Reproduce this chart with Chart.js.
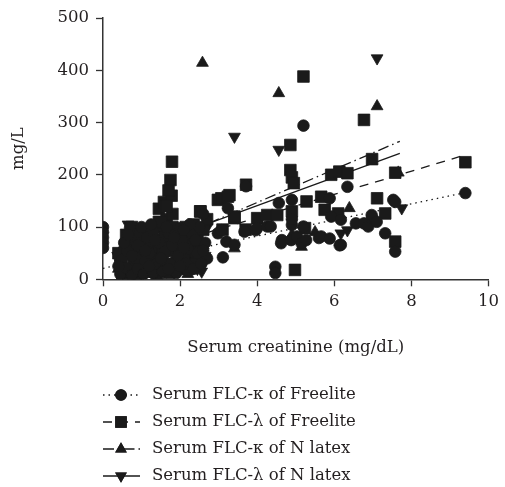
<!DOCTYPE html>
<html>
<head>
<meta charset="utf-8">
<script src="https://cdn.jsdelivr.net/npm/chart.js"></script>
<style>
  body { margin: 0; background: #fff; }
  #wrap { width: 505px; height: 487px; position: relative; }
</style>
</head>
<body>
<div id="wrap"><canvas id="myChart"></canvas></div>
<script>
// [serum creatinine mg/dL, mg/L]
const kappaFreelite = [
  [0,100],[0,90],[0,80],[0,70],[0,60],
  [0.45,10],[0.5,38],[0.6,22],[0.62,55],[0.7,98],[0.75,8],[0.8,75],[0.85,40],[0.9,20],[0.95,90],
  [1.0,60],[1.05,10],[1.1,35],[1.15,80],[1.2,50],[1.3,12],[1.3,92],[1.4,30],[1.45,70],[1.55,15],
  [1.6,52],[1.7,88],[1.75,30],[1.8,65],[1.9,12],[1.95,45],[2.0,98],[2.05,75],[2.15,30],[2.2,58],
  [2.3,88],[2.35,20],[2.45,50],[2.5,100],[2.6,125],[2.65,70],[2.7,40],
  [0.4,25],[0.55,70],[0.65,85],[0.75,45],[0.9,65],[1.0,100],[1.1,55],[1.2,25],[1.25,105],[1.35,75],
  [1.5,40],[1.65,100],[1.7,20],[1.85,80],[2.0,25],[2.1,60],[2.25,105],[2.4,75],[2.55,30],[2.6,55],
  [2.09,94],[2.98,88],[3.07,94],[3.11,42],[3.24,136],[3.2,72],[3.41,66],[3.67,91],[3.71,178],
  [3.96,94],[4.0,98],[4.26,101],[4.35,101],[4.47,24],[4.47,12],[4.56,146],[4.64,75],[4.62,69],
  [4.88,75],[4.9,152],[4.9,104],[4.9,115],[5.03,82],[5.15,69],[5.2,294],[5.2,101],[5.27,75],
  [5.6,79],[5.66,82],[5.88,78],[5.88,155],[5.92,120],[6.14,65],[6.17,114],[6.17,66],[6.34,177],
  [6.56,107],[6.77,107],[6.88,101],[6.98,117],[6.97,123],[7.1,110],[7.32,88],[7.53,152],[7.58,148],
  [7.58,53],[9.4,165]
];
const lambdaFreelite = [
  [0.45,30],[0.5,8],[0.55,50],[0.65,15],[0.7,68],[0.8,30],[0.85,85],[0.9,5],[0.95,52],[1.05,75],
  [1.1,20],[1.2,95],[1.25,40],[1.3,62],[1.4,8],[1.45,135],[1.5,100],[1.55,35],[1.58,148],[1.6,80],
  [1.65,115],[1.7,55],[1.75,190],[1.78,160],[1.79,225],[1.8,125],[1.85,20],[1.9,95],[2.0,60],[2.1,40],
  [2.15,100],[2.25,75],[2.4,30],[2.45,85],[2.53,130],
  [0.4,50],[0.6,85],[0.75,100],[0.85,10],[1.0,40],[1.15,62],[1.35,25],[1.45,110],[1.55,60],[1.65,140],
  [1.7,170],[1.8,100],[1.95,70],[2.05,85],[2.2,20],[2.35,105],[2.6,95],[2.7,115],
  [2.52,130],[2.98,152],[3.07,155],[3.24,158],[3.28,161],[3.1,95],[3.41,117],[3.41,120],[3.7,95],
  [3.71,181],[4.0,117],[4.26,123],[4.52,123],[4.86,257],[4.86,209],[4.9,195],[4.95,184],[4.9,130],
  [4.98,18],[5.2,388],[5.24,98],[5.28,149],[5.66,158],[5.75,133],[5.92,200],[6.13,206],[6.34,203],
  [6.1,126],[6.77,305],[6.98,230],[7.11,155],[7.32,126],[7.58,204],[7.58,72],[9.4,224]
];
const kappaNLatex = [
  [0.4,20],[0.55,45],[0.65,5],[0.75,55],[0.85,25],[0.95,70],[1.05,45],[1.15,10],[1.25,70],[1.35,45],
  [1.45,95],[1.5,25],[1.65,70],[1.7,8],[1.85,40],[1.95,80],[2.03,16],[2.1,55],[2.25,45],[2.4,70],
  [2.5,50],
  [0.5,60],[0.8,90],[1.0,30],[1.2,55],[1.4,15],[1.6,50],[1.8,20],[2.0,65],[2.2,10],[2.35,85],[2.6,65],
  [2.58,414],[3.41,59],[4.56,356],[4.9,85],[5.15,62],[5.5,90],[6.39,136],[7.11,331],[7.66,204]
];
const lambdaNLatex = [
  [0.38,45],[0.5,20],[0.6,65],[0.72,85],[0.8,12],[0.9,50],[1.0,95],[1.1,30],[1.2,60],[1.3,25],
  [1.4,80],[1.5,45],[1.6,25],[1.7,100],[1.8,60],[1.9,28],[2.0,80],[2.1,45],[2.3,95],[2.4,60],
  [2.5,40],[2.56,24],[2.56,15],[2.7,100],
  [0.45,30],[0.65,105],[0.85,70],[1.05,15],[1.25,85],[1.45,60],[1.65,15],[1.85,90],[2.05,35],[2.2,70],
  [2.45,20],[2.65,45],
  [3.41,273],[4.56,248],[6.17,88],[6.34,94],[7.11,423],[7.75,136]
];
// fitted lines, end points
const kappaFreeliteFit = [[0,21],[9.4,166]];
const lambdaFreeliteFit = [[0.3,36],[9.4,238]];
const kappaNLatexFit = [[0.3,30],[7.7,264]];
const lambdaNLatexFit = [[0.3,41],[7.7,241]];

const seriesNames = [
  'Serum FLC-\u03BA of Freelite',
  'Serum FLC-\u03BB of Freelite',
  'Serum FLC-\u03BA of N latex',
  'Serum FLC-\u03BB of N latex'
];

const ink = '#1a1a1a';
const textColor = '#231f20';
const fontFamily = "'DejaVu Serif', serif";
const fontSize = 16.5;

function pts(arr) { return arr.map(p => ({x: p[0], y: p[1]})); }

const markers = [
  {pointStyle: 'circle', radius: 5.8, rotation: 0},
  {pointStyle: 'rect', radius: 8.2, rotation: 0},
  {pointStyle: 'triangle', radius: 6.8, rotation: 0},
  {pointStyle: 'triangle', radius: 6.8, rotation: 180}
];
const dashes = [[1.5, 4], [9, 7], [11, 4, 1.5, 4], []];

function scatterSet(i, data) {
  return {
    label: seriesNames[i],
    data: pts(data),
    pointStyle: markers[i].pointStyle,
    pointRadius: markers[i].radius,
    pointRotation: markers[i].rotation,
    pointBackgroundColor: ink,
    pointBorderColor: ink,
    pointBorderWidth: 0.8,
    showLine: false,
    order: 1
  };
}
function fitSet(i, data) {
  return {
    label: seriesNames[i] + ' fit',
    data: pts(data),
    showLine: true,
    pointRadius: 0,
    borderColor: ink,
    borderWidth: 1.3,
    borderDash: dashes[i],
    fill: false,
    order: 2
  };
}

// legend drawn under the axis title, one row per series
const legendRows = {
  id: 'legendRows',
  afterDraw(chart) {
    const c = chart.ctx;
    const rowY = [395, 422, 449, 476];
    c.save();
    for (let i = 0; i < 4; i++) {
      const y = rowY[i];
      c.strokeStyle = ink;
      c.lineWidth = 1.3;
      c.setLineDash(dashes[i]);
      c.beginPath();
      c.moveTo(103, y);
      c.lineTo(140, y);
      c.stroke();
      c.setLineDash([]);
      Chart.helpers.drawPoint(c, {
        pointStyle: markers[i].pointStyle,
        radius: markers[i].radius,
        rotation: markers[i].rotation,
        borderWidth: 0
      }, 121, y);
      c.fillStyle = ink;
      c.fill();
      c.fillStyle = textColor;
      c.font = fontSize + 'px ' + fontFamily;
      c.textBaseline = 'middle';
      c.textAlign = 'left';
      c.fillText(seriesNames[i], 152, y);
    }
    c.restore();
  }
};

const ctx = document.getElementById('myChart').getContext('2d');

new Chart(ctx, {
    type: 'scatter',
    data: {
        datasets: [
            scatterSet(0, kappaFreelite),
            scatterSet(1, lambdaFreelite),
            scatterSet(2, kappaNLatex),
            scatterSet(3, lambdaNLatex),
            fitSet(0, kappaFreeliteFit),
            fitSet(1, lambdaFreeliteFit),
            fitSet(2, kappaNLatexFit),
            fitSet(3, lambdaNLatexFit)
        ]
    },
    options: {
        responsive: true,
        maintainAspectRatio: false,
        animation: false,
        layout: { padding: { top: 18, right: 10, bottom: 0, left: 0 } },
        plugins: { legend: { display: false }, tooltip: { enabled: false } },
        scales: {
            x: {
                min: 0, max: 10,
                ticks: { stepSize: 2, color: textColor, padding: 6, font: { family: fontFamily, size: fontSize } },
                grid: { drawOnChartArea: false, drawTicks: true, tickLength: 7, tickColor: '#333', tickWidth: 1.3 },
                border: { display: true, color: '#333', width: 1.5 },
                title: { display: true, text: 'Serum creatinine (mg/dL)', color: textColor,
                         font: { family: fontFamily, size: fontSize }, padding: { top: 0, bottom: 129 } },
                afterFit(scale) { scale.height = 207.7; }
            },
            y: {
                min: 0, max: 500,
                ticks: { stepSize: 100, color: textColor, padding: 7, font: { family: fontFamily, size: fontSize } },
                grid: { drawOnChartArea: false, drawTicks: true, tickLength: 7, tickColor: '#333', tickWidth: 1.3 },
                border: { display: true, color: '#333', width: 1.5 },
                title: { display: true, text: 'mg/L', color: textColor,
                         font: { family: fontFamily, size: fontSize }, padding: { top: 9, bottom: 0 } },
                afterFit(scale) { scale.width = 103; }
            }
        }
    },
    plugins: [legendRows]
});
</script>
</body>
</html>
